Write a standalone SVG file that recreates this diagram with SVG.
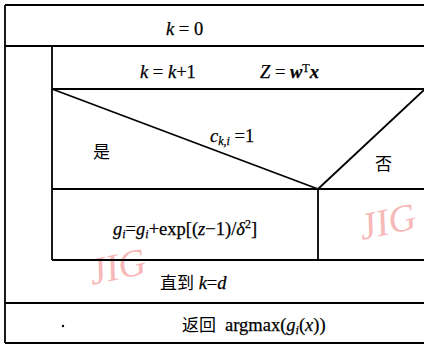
<svg xmlns="http://www.w3.org/2000/svg" width="424" height="345" viewBox="0 0 424 345">
<style>
.ln{stroke:#000;stroke-width:1.8;fill:none}
.t{font-family:"Liberation Serif","Times New Roman",serif;font-size:18.5px;fill:#000;stroke:#000;stroke-width:0.25}
.i{font-style:italic}
.b{font-weight:bold}
.s{font-size:12px}
.cjk{font-family:"Noto Sans CJK SC",sans-serif;font-size:17px;fill:#000;stroke:none}
.wm{font-family:"Liberation Serif",serif;font-size:38px;fill:#f7b8b8;font-style:italic}
</style>
<rect width="424" height="345" fill="#fff"/>
<g id="watermark">
<text class="wm" transform="translate(92,285) rotate(-12)">JIG</text>
<text class="wm" transform="translate(362,240) rotate(-12)">JIG</text>
</g>
<g id="connectors">
<line class="ln" x1="5" y1="5" x2="424" y2="5"/>
<line class="ln" x1="5" y1="5" x2="5" y2="343"/>
<line class="ln" x1="5" y1="46" x2="424" y2="46"/>
<line class="ln" x1="52" y1="46" x2="52" y2="260"/>
<line class="ln" x1="52" y1="89" x2="424" y2="89"/>
<line class="ln" x1="52" y1="89" x2="318" y2="189"/>
<line class="ln" x1="318" y1="189" x2="424" y2="90"/>
<line class="ln" x1="52" y1="189" x2="424" y2="189"/>
<line class="ln" x1="318" y1="189" x2="318" y2="260"/>
<line class="ln" x1="52" y1="260" x2="424" y2="260"/>
<line class="ln" x1="5" y1="303" x2="424" y2="303"/>
<line class="ln" x1="5" y1="343" x2="424" y2="343"/>
</g>
<g id="init"><text class="t" x="166" y="35"><tspan class="i">k</tspan> = 0</text></g>
<g id="step"><text class="t" x="140" y="78"><tspan class="i">k</tspan> = <tspan class="i">k</tspan>+1</text>
<text class="t" x="260" y="78"><tspan class="i">Z</tspan> = <tspan class="i b">w</tspan><tspan class="s" dy="-6">T</tspan><tspan class="i b" dy="6">x</tspan></text></g>
<g id="cond"><text class="t" x="210" y="142"><tspan class="i">c</tspan><tspan class="i s" dy="3">k,i</tspan><tspan dy="-3"> =1</tspan></text></g>
<g id="yes"><text class="cjk" x="93" y="158">是</text></g>
<g id="no"><text class="cjk" x="375" y="170">否</text></g>
<g id="update"><text class="t" x="113" y="235"><tspan class="i">g</tspan><tspan class="i s" dy="3">i</tspan><tspan dy="-3">=</tspan><tspan class="i">g</tspan><tspan class="i s" dy="3">i</tspan><tspan dy="-3">+exp[(</tspan><tspan class="i">z</tspan>−1)/<tspan class="i">δ</tspan><tspan class="s" dy="-7">2</tspan><tspan dy="7">]</tspan></text></g>
<g id="until"><text class="t" x="160" y="289"><tspan class="cjk">直到</tspan> <tspan class="i">k</tspan>=<tspan class="i">d</tspan></text></g>
<g id="return"><circle cx="63" cy="326" r="1.2" fill="#000"/><text class="t" x="182" y="331"><tspan class="cjk">返回</tspan><tspan dx="9">argmax(</tspan><tspan class="i">g</tspan><tspan class="i s" dy="3">i</tspan><tspan dy="-3">(</tspan><tspan class="i">x</tspan>))</text></g>
</svg>
